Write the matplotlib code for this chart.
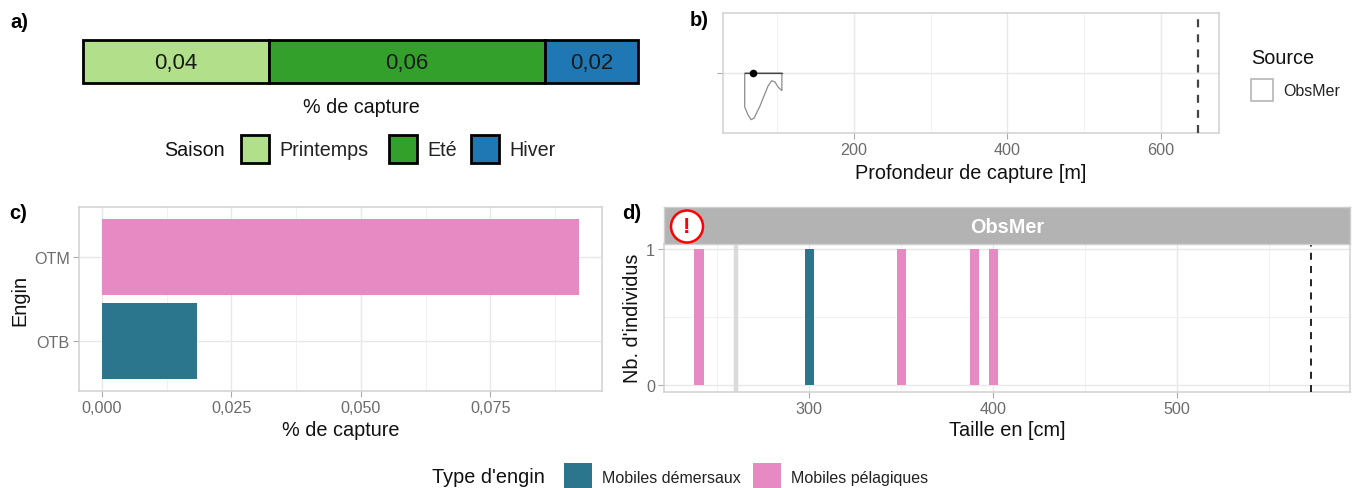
import matplotlib
matplotlib.use("Agg")
import matplotlib.pyplot as plt
from matplotlib.patches import Patch, Circle
from matplotlib.transforms import IdentityTransform

plt.rcParams['font.family'] = ['Liberation Sans', 'DejaVu Sans']

# ---- data ----
saisons = ["Printemps", "Eté", "Hiver"]
saison_values = [0.0369, 0.0550, 0.0184]
saison_colors = ["#B2DF8A", "#33A02C", "#1F78B4"]

depth_x = [57.6, 57.6, 62, 66, 70, 73.6, 77.5, 82.7, 88, 92.8, 97, 101, 106, 106]
depth_density = [0.0, 0.34, 0.42, 0.467, 0.45, 0.39, 0.33, 0.23, 0.13, 0.077, 0.09, 0.14, 0.177, 0.0]
depth_point = 68
depth_max = 648

engins = ["OTB", "OTM"]
engin_values = [0.0184, 0.0922]
type_labels = ["Mobiles démersaux", "Mobiles pélagiques"]
type_colors = ["#2C768D", "#E78AC3"]

size_bins = [240, 300, 350, 390, 400]
size_counts = [1, 1, 1, 1, 1]
size_types = [1, 0, 1, 1, 1]
size_mat = 260
size_max = 573

W, H = 1354, 489
fig = plt.figure(figsize=(W / 100, H / 100), dpi=100, facecolor="white")


def axes_px(x0, y0, x1, y1, **kw):
    return fig.add_axes([x0 / W, 1 - y1 / H, (x1 - x0) / W, (y1 - y0) / H], **kw)


def ftext(x, y, s, **kw):
    fig.text(x / W, 1 - y / H, s, **kw)


GRID, MINOR, BORDER, TICKC = "#E8E8E8", "#F1F1F1", "#D2D2D2", "#6B6B6B"
LAB, TICK, LEG = 14.3, 11.6, 11.5


def style(ax, xmaj, xmin, ymaj, ymin=()):
    ax.set_axisbelow(True)
    for s in ax.spines.values():
        s.set_color(BORDER)
        s.set_linewidth(1.15)
    ax.set_xticks(xmaj)
    ax.set_xticks(xmin, minor=True)
    ax.set_yticks(ymaj)
    ax.set_yticks(ymin, minor=True)
    ax.grid(True, which="major", color=GRID, lw=1.0)
    ax.grid(True, which="minor", color=MINOR, lw=0.7)
    ax.tick_params(which="major", color="#AAAAAA", labelcolor=TICKC, labelsize=TICK, length=4, width=0.8, pad=2.5)
    ax.tick_params(which="minor", length=0)


def px_legend(x, y, handles, labels, fs, size_px, gap_px, col_px=10):
    em = fs * 100 / 72
    # matplotlib patch height = em * (0.65 * handleheight + 0.245)
    hh = (size_px / em - 0.245) / 0.65
    fig.legend(handles, labels, loc="center left", bbox_to_anchor=(x, H - y),
               bbox_transform=IdentityTransform(), ncol=len(labels), frameon=False,
               fontsize=fs, handlelength=size_px / em, handleheight=hh,
               handletextpad=gap_px / em, columnspacing=col_px / em, borderpad=0,
               borderaxespad=0, labelcolor="#222222")


# ---- a) ----
axa = axes_px(83, 40.5, 638, 84)
left = 0
for name, v, c in zip(saisons, saison_values, saison_colors):
    axa.barh(0, v, left=left, height=1, color=c, edgecolor="black", lw=2.0, clip_on=False)
    axa.text(left + v / 2, -0.02, f"{v:.2f}".replace(".", ","), ha="center", va="center",
             fontsize=16, color="#1a1a1a")
    left += v
axa.set_xlim(0, sum(saison_values))
axa.set_ylim(-0.5, 0.5)
axa.axis("off")
ftext(361, 107.5, "% de capture", ha="center", va="center", fontsize=14.2, color="#111111")
ftext(164, 150.5, "Saison", ha="left", va="center", fontsize=14.2, color="#111111")
for name, c, x in zip(saisons, saison_colors, [241, 389, 471]):
    px_legend(x, 150, [Patch(facecolor=c, edgecolor="black", lw=2.0)], [name], 14.2, 28, 10)

# ---- b) ----
axb = axes_px(723, 14, 1219, 134)
style(axb, [200, 400, 600], [100, 300, 500], [1])
axb.set_xlim(29.3, 675.6)
axb.set_ylim(0.4, 1.6)
axb.set_yticklabels([""])
axb.fill(depth_x, [1 - d for d in depth_density], facecolor="white", edgecolor="#8C8C8C", lw=0.9, zorder=3)
axb.plot([min(depth_x), max(depth_x)], [1, 1], color="#444444", lw=0.9, zorder=4)
axb.scatter([depth_point], [1], s=30, color="black", zorder=5, lw=0)
axb.axvline(depth_max, color="#444444", lw=1.6, ls=(0, (3.6, 3.2)), zorder=4)
axb.set_xlabel("Profondeur de capture [m]", fontsize=LAB, color="#111111", labelpad=4.5)
ftext(1251, 59, "Source", ha="left", va="center", fontsize=LAB, color="#111111")
px_legend(1251, 90.5, [Patch(facecolor="white", edgecolor="#B5B5B5", lw=1.2)], ["ObsMer"], LEG, 22, 10)

# ---- c) ----
axc = axes_px(78.7, 208.3, 602, 392)
scale_c = 5178
style(axc, [0, 0.025, 0.05, 0.075], [0.0125, 0.0375, 0.0625, 0.0875], [0, 1])
axc.set_xlim((78.7 - 102) / scale_c, (602 - 102) / scale_c)
axc.set_ylim(-0.59, 1.59)
axc.barh(range(len(engins)), engin_values, height=0.9, color=type_colors, zorder=3)
axc.set_yticklabels(engins)
axc.set_xticklabels(["0,000", "0,025", "0,050", "0,075"])
axc.set_xlabel("% de capture", fontsize=LAB, color="#111111", labelpad=3.5)
axc.set_ylabel("Engin", fontsize=LAB, color="#111111", labelpad=3)

# ---- d) ----
axd = axes_px(664, 245, 1350, 392.5)
style(axd, [300, 400, 500], [250, 350, 450, 550], [0, 1], [0.5])
axd.set_xlim(221, 594)
axd.set_ylim(-0.05, 1.04)
axd.bar(size_bins, size_counts, width=5, color=[type_colors[t] for t in size_types], zorder=3)
axd.axvline(size_mat, color="#DADADA", lw=3.2, zorder=2)
axd.axvline(size_max, color="#222222", lw=1.4, ls=(0, (3.6, 3.2)), zorder=4)
axd.set_xlabel("Taille en [cm]", fontsize=LAB, color="#111111", labelpad=3.5)
axd.set_ylabel("Nb. d'individus", fontsize=LAB, color="#111111", labelpad=3)

strip = axes_px(664, 208, 1350, 245)
strip.set_facecolor("#B3B3B3")
strip.set_xticks([])
strip.set_yticks([])
for s in strip.spines.values():
    s.set_color("#CFCFCF")
    s.set_linewidth(1.0)
strip.text(0.5, 0.48, "ObsMer", transform=strip.transAxes, ha="center", va="center",
           fontsize=14.3, fontweight="bold", color="white")
fig.add_artist(Circle((687, H - 227.5), 16, transform=IdentityTransform(),
                      facecolor="white", edgecolor="#FF0000", lw=1.8, zorder=10))
ftext(687, 227.5, "!", ha="center", va="center", fontsize=16, fontweight="bold", color="#FF0000", zorder=11)

# ---- bottom legend ----
ftext(432, 478, "Type d'engin", ha="left", va="center", fontsize=LAB, color="#111111")
px_legend(564, 478, [Patch(facecolor=c, edgecolor="none") for c in type_colors], type_labels, LEG, 28, 10, 12)

# ---- panel tags ----
for s, x, y in [("a)", 10, 22), ("b)", 690, 21), ("c)", 9, 214), ("d)", 622, 214)]:
    ftext(x, y, s, ha="left", va="center", fontsize=14.5, fontweight="bold", color="black")

fig.savefig("out.png", dpi=100, facecolor="white")
